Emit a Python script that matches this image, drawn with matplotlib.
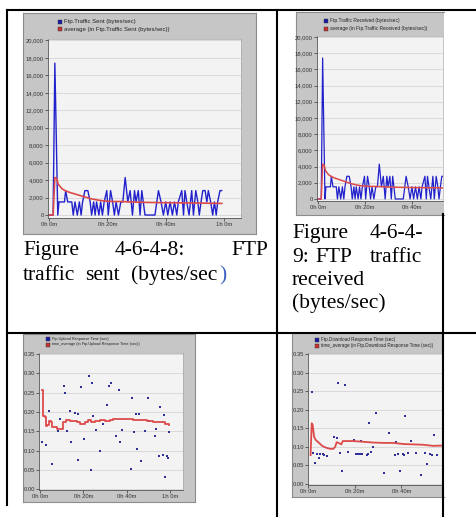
import matplotlib
matplotlib.use('Agg')
import matplotlib.pyplot as plt
from matplotlib.lines import Line2D
from matplotlib.patches import Rectangle

# FTP traffic sent (minutes, bytes/sec)
SENT_MIN = [0.0, 1.4, 2.0, 3.0, 3.4, 4.3, 5.3, 5.7, 6.4, 7.2, 7.8, 8.3, 8.9, 9.7, 10.4,
            11.0, 11.5, 12.3, 13.3, 14.1, 14.6, 15.3, 15.8, 16.3, 17.1, 17.7, 18.3, 18.9,
            19.8, 20.3, 21.1, 21.8, 22.4, 23.0, 23.8, 24.6, 25.3, 26.1, 27.0, 27.8, 28.6,
            29.3, 29.8, 30.6, 31.2, 31.8, 32.3, 32.9, 33.6, 34.4, 35.2, 36.3, 37.5, 38.4,
            39.2, 40.0, 40.7, 41.5, 42.3, 43.0, 43.8, 44.3, 45.5, 46.1, 46.6, 47.2, 48.0,
            48.9, 49.5, 50.3, 51.0, 51.5, 52.1, 52.7, 53.5, 54.1, 54.6, 55.4, 56.1, 56.7,
            57.3, 57.8, 58.6, 59.2]
SENT_BPS = [0, 0, 17400, 0, 1500, 1500, 1500, 2800, 1500, 1500, 1500, 0, 1500, 0, 1500,
            0, 1500, 2800, 2800, 1500, 0, 1500, 0, 1500, 0, 1500, 0, 1500, 2800, 0,
            2800, 1500, 0, 1500, 0, 1500, 1500, 4300, 1500, 2800, 0, 2800, 1500, 2800, 0,
            2800, 1500, 0, 0, 0, 0, 0, 2800, 1500, 0, 1500, 0, 1500, 0, 1500,
            0, 1500, 2800, 0, 2800, 1500, 0, 2800, 0, 2800, 1500, 0, 1500, 2800, 2800,
            1500, 2800, 1500, 0, 1500, 0, 1500, 2800, 2800]
SENT_AVG_MIN = [0.0, 1.4, 2.0, 2.6, 3.2, 4.5, 5.5, 7.0, 10.0, 12.0, 14.6, 17.0, 19.2,
                22.0, 25.0, 28.0, 33.0, 38.0, 44.0, 50.0, 55.0, 59.2]
SENT_AVG = [0, 0, 4300, 4200, 3500, 3000, 2800, 2600, 2300, 2100, 1850, 1700, 1600,
            1550, 1550, 1500, 1450, 1420, 1400, 1380, 1350, 1330]

# received trace looks the same as the sent one
RECV_MIN = SENT_MIN
RECV_BPS = SENT_BPS
RECV_AVG_MIN = SENT_AVG_MIN
RECV_AVG = SENT_AVG

# upload response time (minutes, sec)
UP_MIN = [1.2, 2.8, 4.0, 5.8, 8.3, 9.5, 10.9, 11.8, 12.5, 13.7, 14.5, 16.0, 17.8, 17.8,
          19.1, 20.3, 22.5, 23.5, 24.0, 24.6, 26.0, 27.8, 29.1, 30.9, 31.8, 32.8, 35.2,
          36.3, 36.9, 37.7, 42.0, 42.6, 43.2, 44.3, 44.9, 45.7, 46.8, 48.6, 49.7, 50.4,
          52.9, 53.4, 54.8, 55.2, 56.6, 57.1, 57.7, 58.5, 59.0, 59.7]
UP_SEC = [0.123, 0.115, 0.203, 0.066, 0.151, 0.182, 0.268, 0.250, 0.150, 0.202, 0.123,
          0.198, 0.076, 0.195, 0.264, 0.130, 0.294, 0.049, 0.275, 0.189, 0.153, 0.098,
          0.168, 0.217, 0.268, 0.275, 0.137, 0.256, 0.122, 0.153, 0.052, 0.237, 0.148,
          0.194, 0.104, 0.194, 0.073, 0.150, 0.235, 0.177, 0.139, 0.157, 0.086, 0.213,
          0.088, 0.192, 0.032, 0.085, 0.080, 0.149]
UP_AVG_MIN = [0.8, 1.5, 2.2, 2.8, 3.4, 4.0, 5.2, 5.8, 7.7, 9.5, 10.8, 12.0, 13.8, 15.4,
              16.9, 18.5, 20.8, 22.3, 23.8, 25.4, 27.7, 30.0, 32.3, 33.8, 40.0, 43.1,
              46.2, 49.2, 52.3, 55.4, 57.7, 59.7]
UP_AVG = [0.256, 0.189, 0.186, 0.163, 0.166, 0.176, 0.174, 0.160, 0.157, 0.155, 0.174,
          0.179, 0.176, 0.177, 0.174, 0.170, 0.174, 0.178, 0.174, 0.176, 0.179, 0.176,
          0.180, 0.182, 0.182, 0.180, 0.179, 0.177, 0.175, 0.173, 0.168, 0.165]

# download response time (minutes, sec)
DOWN_MIN = [1.7, 2.0, 2.9, 4.0, 4.6, 5.3, 6.3, 6.9, 8.0, 11.0, 12.3, 12.9, 13.6, 14.7,
            15.9, 17.0, 19.7, 20.7, 21.5, 22.3, 22.6, 23.1, 25.1, 25.9, 26.1, 27.1, 28.0,
            29.1, 32.7, 34.9, 37.4, 37.9, 38.7, 39.3, 40.6, 41.1, 41.7, 42.7, 44.1, 46.4,
            48.3, 50.0, 51.1, 52.3, 53.1, 54.0, 55.4, 57.9]
DOWN_SEC = [0.248, 0.083, 0.056, 0.081, 0.068, 0.079, 0.079, 0.077, 0.075, 0.126, 0.124,
            0.273, 0.083, 0.034, 0.266, 0.086, 0.117, 0.080, 0.080, 0.080, 0.116, 0.080,
            0.077, 0.081, 0.165, 0.086, 0.100, 0.190, 0.029, 0.137, 0.077, 0.112, 0.079,
            0.034, 0.080, 0.076, 0.182, 0.083, 0.115, 0.083, 0.024, 0.084, 0.053, 0.080,
            0.078, 0.132, 0.076, 0.201]
DOWN_AVG_MIN = [1.1, 1.6, 2.0, 2.6, 3.3, 4.4, 5.9, 7.3, 9.4, 10.9, 11.7, 12.3, 13.4, 14.3,
                14.9, 16.6, 19.4, 23.7, 28.0, 32.3, 36.6, 40.9, 45.1, 49.4, 53.7, 58.0]
DOWN_AVG = [0.077, 0.163, 0.159, 0.127, 0.118, 0.112, 0.103, 0.098, 0.094, 0.094, 0.100,
            0.112, 0.109, 0.106, 0.115, 0.115, 0.115, 0.113, 0.111, 0.110, 0.110, 0.107,
            0.106, 0.105, 0.102, 0.103]

TIME_TICKS = [0, 20, 40, 60]
TIME_LABELS = ['0h 0m', '0h 20m', '0h 40m', '1h 0m']
TRAFFIC_TICKS = list(range(0, 20001, 2000))
RESP_TICKS = [0.0, 0.05, 0.10, 0.15, 0.20, 0.25, 0.30, 0.35]

W, H = 477, 517
BLUE = '#2222cc'
RED = '#dd4a4a'

fig = plt.figure(figsize=(W / 100, H / 100), dpi=100)


def fx(x):
    return x / W


def fy(y):
    return 1 - y / H


def rect(x0, y0, x1, y1):
    return [x0 / W, 1 - y1 / H, (x1 - x0) / W, (y1 - y0) / H]


def line(x0, y0, x1, y1):
    fig.add_artist(Line2D([fx(x0), fx(x1)], [fy(y0), fy(y1)], color='black', lw=1.5))


def legend(x, ys, labels, size):
    for y, lab, c in zip(ys, labels, ['#1c1ca8', '#c83232']):
        fig.add_artist(Rectangle((fx(x), fy(y + 2)), 4 / W, 4 / H, transform=fig.transFigure,
                                 facecolor=c, edgecolor='#333333', lw=0.3))
        fig.text(fx(x + 6), fy(y), lab, fontsize=size, va='center', ha='left',
                 family='Liberation Sans', color='#222222')


def panel(frame, plot, xlim, ylim, yticks, yfmt, right_open=False):
    fr = fig.add_axes(rect(*frame))
    fr.set_facecolor('#c6c6c6')
    fr.set_xticks([])
    fr.set_yticks([])
    for s in fr.spines.values():
        s.set_color('#8c8c8c')
        s.set_linewidth(0.8)
    if right_open:
        fr.spines['right'].set_visible(False)
    ax = fig.add_axes(rect(*plot))
    ax.set_facecolor('#f3f3f3')
    ax.set_xticks(TIME_TICKS)
    ax.set_xticklabels(TIME_LABELS)
    ax.set_yticks(yticks)
    ax.set_yticklabels([yfmt(v) for v in yticks])
    ax.set_xlim(*xlim)
    ax.set_ylim(*ylim)
    ax.grid(axis='y', color='#d6d6d6', lw=0.6)
    ax.set_axisbelow(True)
    ax.tick_params(length=2, width=0.5, pad=1, labelsize=4.2, colors='#333333')
    for lab in ax.get_xticklabels() + ax.get_yticklabels():
        lab.set_family('Liberation Sans')
    for side in ['left', 'bottom']:
        ax.spines[side].set_color('#555555')
        ax.spines[side].set_linewidth(0.6)
    for side in ['top', 'right']:
        ax.spines[side].set_color('#a8a8a8')
        ax.spines[side].set_linewidth(0.5)
    if right_open:
        ax.spines['right'].set_visible(False)
    return ax


# table rules
line(7, 10, 477, 10)
line(7, 10, 7, 505)
line(277, 10, 277, 517)
line(443, 214, 443, 517)
line(7, 333, 477, 333)

traffic_fmt = lambda v: f'{v:,}'
resp_fmt = lambda v: f'{v:.2f}'

# FTP traffic sent
ax1 = panel((23, 13, 256, 234), (48, 39, 241, 218), (-0.35, 65.8), (-340, 20170),
            TRAFFIC_TICKS, traffic_fmt)
ax1.plot(SENT_MIN, SENT_BPS, color=BLUE, lw=1.0)
ax1.plot(SENT_AVG_MIN, SENT_AVG, color=RED, lw=1.2)
legend(58, [21.5, 29], ['Ftp.Traffic Sent (bytes/sec)',
                        'average (in Ftp.Traffic Sent (bytes/sec))'], 4.3)

# FTP traffic received
ax2 = panel((296, 12, 444, 215), (317, 36, 443, 201), (-0.4, 53.2), (-250, 20120),
            TRAFFIC_TICKS, traffic_fmt, right_open=True)
ax2.plot(RECV_MIN, RECV_BPS, color=BLUE, lw=0.9)
ax2.plot(RECV_AVG_MIN, RECV_AVG, color=RED, lw=1.1)
legend(324, [20.7, 28.7], ['Ftp.Traffic Received (bytes/sec)',
                           'average (in Ftp.Traffic Received (bytes/sec))'], 3.5)

# upload response time
ax3 = panel((23, 334, 195, 502), (39, 353, 183, 490), (-0.4, 66), (-0.002, 0.3526),
            RESP_TICKS, resp_fmt)
ax3.scatter(UP_MIN, UP_SEC, s=1.6, marker='s', color='#30309a', lw=0)
ax3.plot(UP_AVG_MIN, UP_AVG, color=RED, lw=1.3, drawstyle='steps-post')
legend(46, [339, 344.5], ['Ftp.Upload Response Time (sec)',
                          'time_average (in Ftp.Upload Response Time (sec))'], 2.8)

# download response time
ax4 = panel((292, 333, 444, 497), (308, 353, 443, 485), (0, 57.9), (-0.004, 0.3535),
            RESP_TICKS, resp_fmt, right_open=True)
ax4.scatter(DOWN_MIN, DOWN_SEC, s=1.6, marker='s', color='#30309a', lw=0)
ax4.plot(DOWN_AVG_MIN, DOWN_AVG, color=RED, lw=1.3)
legend(315, [340, 345.5], ['Ftp.Download Response Time (sec)',
                           'time_average (in Ftp.Download Response Time (sec))'], 3.3)

# captions
cap = dict(fontsize=15.5, family='Liberation Serif', va='baseline', color='black')
fig.text(fx(23), fy(255), 'Figure', ha='left', **cap)
fig.text(fx(115), fy(255), '4-6-4-8:', ha='left', **cap)
fig.text(fx(268), fy(255), 'FTP', ha='right', **cap)
fig.text(fx(23), fy(280), 'traffic', ha='left', **cap)
fig.text(fx(85), fy(280), 'sent', ha='left', **cap)
t = fig.text(fx(131), fy(280), '(bytes/sec', ha='left', **cap)
fig.canvas.draw()
bb = t.get_window_extent(fig.canvas.get_renderer())
fig.text(bb.x1 / fig.bbox.width + 1.5 / W, fy(280), ')', ha='left',
         fontsize=15.5, family='Liberation Serif', va='baseline', color='#3a5fc0')

fig.text(fx(292), fy(238), 'Figure', ha='left', **cap)
fig.text(fx(423), fy(238), '4-6-4-', ha='right', **cap)
fig.text(fx(292), fy(261.5), '9:', ha='left', **cap)
fig.text(fx(315), fy(261.5), 'FTP', ha='left', **cap)
fig.text(fx(422), fy(261.5), 'traffic', ha='right', **cap)
fig.text(fx(292), fy(285), 'received', ha='left', **cap)
fig.text(fx(292), fy(308), '(bytes/sec)', ha='left', **cap)

fig.savefig('out.png', dpi=100)
